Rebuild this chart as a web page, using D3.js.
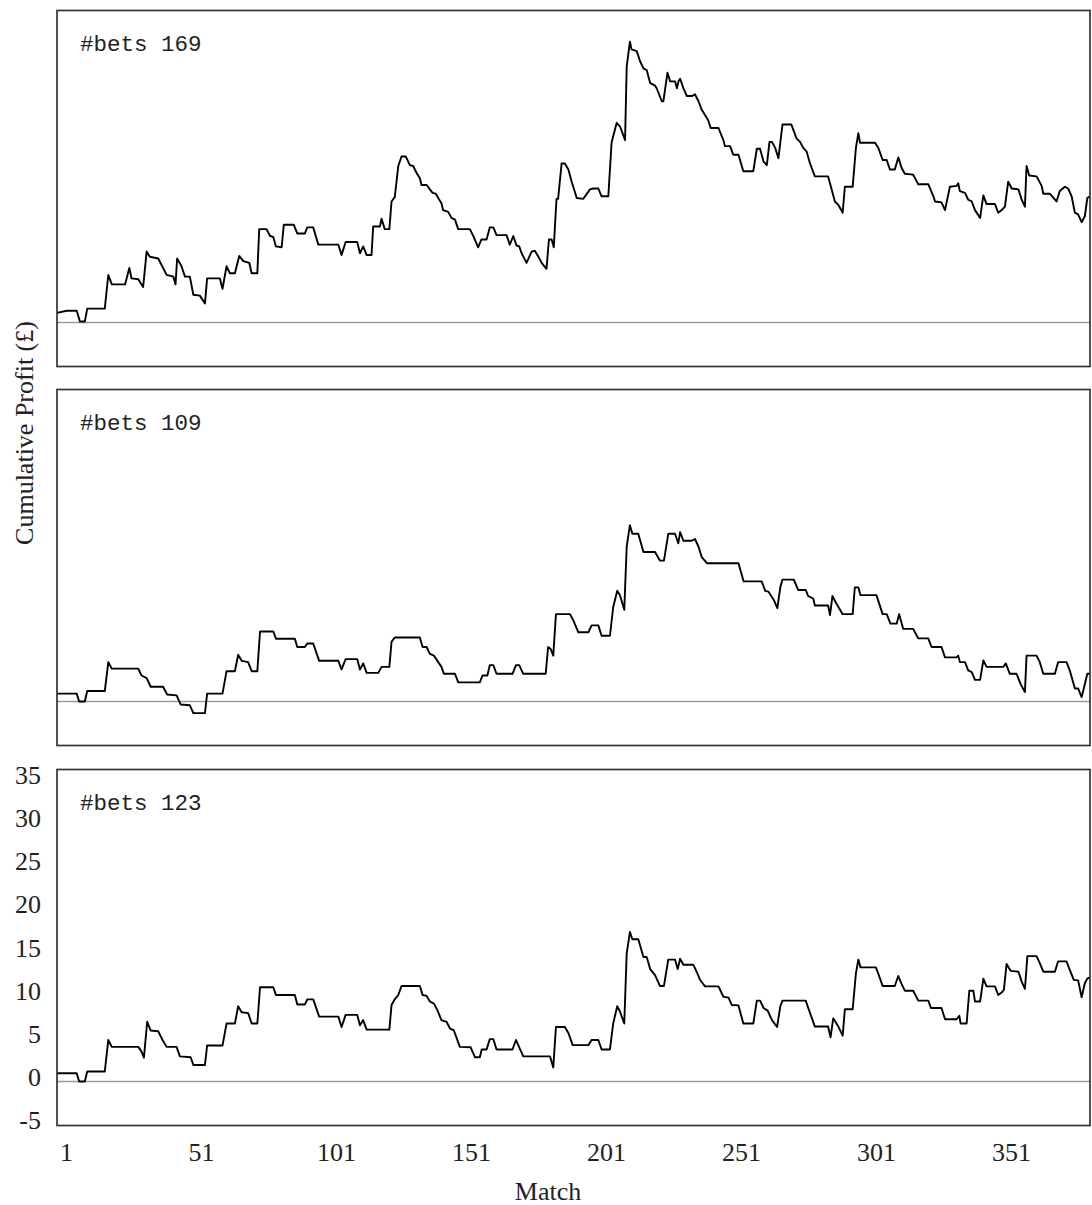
<!DOCTYPE html>
<html>
<head>
<meta charset="utf-8">
<script src="https://cdnjs.cloudflare.com/ajax/libs/d3/7.8.5/d3.min.js"></script>
<style>
    body { margin: 0; background: #fff; }
</style>
</head>
<body>
<script>
// cumulative profit, [match, profit in £], vertices
let bets169 = [
    [-2.3,1.1],[1.3,1.35],[5,1.35],[6.2,0.1],[8,0.1],[8.9,1.6],[15.4,1.6],[16.7,5.5],[18,4.4],[22.9,4.4],
    [24.5,6.3],[25.3,5.1],[27.8,5.0],[29.6,4.1],[30.9,8.2],[32.1,7.6],[35.2,7.4],[38.3,5.5],[40.8,5.3],[41.6,4.4],
    [42.2,7.4],[43.8,6.5],[45.1,5.3],[46.9,5.3],[48.2,3.2],[50.6,3.1],[52.5,2.2],[53.3,5.1],[58,5.1],[59,3.9],
    [60.5,6.5],[61.7,5.7],[63.6,5.7],[65.2,7.7],[66.7,7.1],[68.9,6.9],[69.8,5.7],[71.9,5.7],[72.6,10.8],[75.3,10.8],
    [76.6,10.0],[77.8,9.9],[78.8,8.8],[80.9,8.7],[81.7,11.3],[85.4,11.3],[86.7,10.3],[89.5,10.3],[90.4,11.0],[92.6,11.0],
    [94.5,9.0],[101.9,9.0],[103.1,7.8],[104.6,9.3],[108.9,9.3],[109.9,8.0],[111.1,8.8],[112.4,7.8],[114.2,7.8],[114.8,11.1],
    [117.3,11.1],[117.9,12.0],[119.1,10.8],[120.8,10.8],[121.6,14.0],[122.8,14.5],[124.1,18.1],[125.3,19.2],[126.9,19.2],[128.4,18.2],
    [129.6,18.1],[130.9,17.3],[132.1,16.7],[132.7,15.9],[134.6,15.9],[135.8,15.4],[136.8,15.0],[138,14.9],[138.9,14.4],[140.1,13.8],
    [140.7,13.0],[142.6,12.8],[143.8,12.1],[145.1,11.9],[146.3,10.8],[150.6,10.8],[151.9,10.0],[153.7,8.7],[154.9,9.6],[156.8,9.6],
    [158,11.0],[159.3,11.0],[160.5,10.1],[164.2,10.1],[165.4,9.0],[166.7,10.0],[167.9,8.9],[168.9,8.8],[169.8,8.0],[171.6,6.9],
    [173.5,8.2],[174.7,8.3],[176,7.6],[177.2,6.9],[179,6.2],[179.9,9.6],[180.9,9.6],[181.7,8.7],[182.7,14.3],[183.3,14.3],
    [184.6,18.4],[185.8,18.4],[187.1,17.7],[188.3,16.3],[190.2,14.4],[192.6,14.3],[195.1,15.4],[196.3,15.5],[198.2,15.5],[199.4,14.6],
    [201.9,14.6],[203.1,20.8],[205,23.1],[206.2,22.7],[208.1,21.1],[208.7,29.6],[209.9,32.5],[210.5,31.6],[212.4,31.4],[213.7,30.2],
    [214.9,29.4],[216.1,29.2],[217.4,27.7],[219.2,27.4],[219.8,27.1],[221.7,25.6],[222.3,25.6],[223.8,28.9],[224.8,27.9],[226.6,27.9],
    [227.3,27.1],[227.9,27.9],[228.5,28.2],[229.7,27.1],[231,26.2],[232.8,26.2],[234,26.4],[235.3,25.6],[236.5,24.6],[237.7,24.0],
    [238.9,23.4],[239.8,22.5],[242.7,22.5],[244.5,21.1],[245.1,20.4],[247,20.4],[248.2,19.4],[250.1,19.4],[251.9,17.5],[255.6,17.5],
    [256.9,20.1],[258.1,20.1],[259.4,18.6],[260.6,18.2],[261.6,20.9],[262.5,20.9],[263.7,20.2],[264.9,19.0],[266.4,22.9],[269.7,22.9],
    [271.6,21.3],[272.9,20.9],[274.1,20.2],[275.3,19.8],[276.6,18.4],[278.4,16.9],[283.3,16.9],[284.6,15.4],[285.8,14.0],[287.1,13.6],
    [288.7,12.7],[289.5,15.7],[292.4,15.7],[293.6,20.2],[294.5,21.9],[295.1,20.8],[300.7,20.8],[301.9,20.2],[303.5,18.8],[305,18.8],
    [306.2,17.7],[308,17.7],[309.3,19.1],[310.5,17.9],[311.7,17.2],[314.8,17.1],[316.7,16.0],[320.4,16.0],[322.3,14.6],[322.9,14.0],
    [325.3,13.9],[326.6,13.0],[328.4,15.7],[330.9,15.8],[331.5,16.1],[332.1,15.2],[334,15.0],[335.2,14.2],[336.5,14.0],[337.7,13.0],
    [339.6,12.1],[340.8,14.7],[342,13.7],[345.1,13.7],[346.3,12.7],[347.6,13.0],[348.8,13.4],[350,16.3],[351.3,15.5],[353.8,15.4],
    [355,14.2],[356.2,13.4],[356.8,18.1],[357.8,17.0],[360.5,16.9],[362.4,15.8],[363,14.9],[365.4,14.9],[367.9,14.0],[369.1,15.2],
    [371,15.7],[372.2,15.5],[373.5,14.6],[374.7,12.7],[375.9,12.5],[377.2,11.6],[378.4,12.3],[379.3,14.4],[380.3,14.6]
];

let bets109 = [
    [-2.3,0.9],[5,0.9],[5.9,0],[8,0],[8.9,1.2],[15.4,1.2],[16.7,4.55],[18,3.8],[27.8,3.8],[29,3.0],
    [30.9,2.7],[32.4,1.7],[37,1.7],[38.5,0.8],[42,0.7],[43.5,-0.35],[46.9,-0.45],[48.2,-1.35],[52.5,-1.35],[53.3,0.9],
    [59,0.9],[60.5,3.5],[63.6,3.5],[64.8,5.4],[66.1,4.7],[68.5,4.55],[69.8,3.5],[71.9,3.5],[72.9,8.1],[77.8,8.1],
    [78.8,7.25],[85.8,7.25],[86.7,6.3],[89.5,6.3],[90.4,6.7],[92.6,6.7],[94.8,4.7],[101.9,4.7],[103.1,3.7],[104.6,4.9],
    [108.9,4.9],[109.9,3.7],[111.1,4.4],[112.4,3.3],[116.7,3.3],[117.9,4.0],[120.8,4.0],[121.6,6.9],[122.8,7.4],[132.1,7.4],
    [133.1,6.3],[134.6,6.3],[135.8,5.5],[137.3,5.3],[138.9,4.55],[140.1,4.0],[141,3.2],[145.1,3.2],[146.3,2.2],[154.3,2.2],
    [155.3,3.0],[157.1,3.0],[158,4.2],[159.3,4.2],[160.5,3.2],[166.4,3.2],[167.7,4.2],[168.9,4.2],[170.4,3.2],[178.7,3.2],
    [179.6,6.3],[180.5,6.1],[181.5,5.3],[182.5,10.1],[187.7,10.1],[188.9,9.4],[190.8,8.0],[194.5,8.0],[195.7,8.8],[198.2,8.8],
    [199.4,7.6],[202.5,7.6],[203.7,10.9],[205.2,12.8],[206.2,12.3],[207.8,10.6],[208.7,17.9],[209.9,20.4],[210.8,19.4],[213,19.4],
    [214.9,17.3],[219.2,17.3],[221,16.3],[222.5,16.3],[224.1,19.4],[226.6,19.4],[227.8,18.3],[228.5,19.6],[229.7,18.6],[232.8,18.6],
    [234,18.8],[235.3,17.9],[236.5,16.7],[238.4,16.0],[250.1,16.0],[252,13.9],[258.7,13.9],[260,12.8],[261.2,12.7],[263.1,11.8],
    [264.5,10.8],[265.6,13.2],[266.4,14.1],[270.6,14.1],[272.2,12.9],[275,12.9],[275.9,12.2],[277.8,11.9],[278.4,11.1],[283.3,11.1],
    [284,10.0],[284.9,12.2],[286.4,11.3],[288.7,10.1],[292.4,10.1],[293.2,13.2],[294.5,13.2],[295.3,12.3],[301.2,12.3],[303.5,10.1],
    [305,10.1],[306.4,9.0],[308.7,9.0],[309.6,10.1],[311.1,8.4],[314.8,8.4],[316.7,7.3],[320.4,7.3],[321.6,6.3],[325.3,6.3],
    [326.6,5.1],[330.9,5.1],[331.5,5.3],[332.1,4.55],[334,4.55],[335.2,3.6],[336.5,3.4],[337.7,2.5],[339.6,2.5],[340.8,4.75],
    [342,4.0],[348.2,4.0],[349.1,4.4],[350.6,3.2],[353.1,3.2],[354.6,2.0],[356.2,1.1],[356.8,5.3],[360.5,5.3],[361.7,4.55],
    [363,3.2],[367.3,3.2],[368.5,4.55],[371.6,4.55],[372.8,3.6],[374.7,1.5],[375.9,1.5],[377.2,0.5],[378.4,2.0],[379.3,3.2],
    [380.3,3.2]
];

let bets123 = [
    [-2.3,0.95],[5,0.95],[5.9,0],[8,0],[8.9,1.15],[15.4,1.15],[16.7,4.8],[18,4.0],[27.8,4.0],[29,3.45],
    [29.9,2.75],[31.1,6.9],[32.4,5.9],[35.2,5.8],[36.8,4.8],[38.3,4.0],[42,4.0],[43.2,2.9],[47.2,2.8],[48.2,1.9],
    [52.5,1.9],[53.3,4.15],[59,4.15],[60.5,6.7],[63.6,6.7],[64.8,8.7],[66.1,8.0],[68.5,7.9],[69.8,6.7],[71.9,6.7],
    [72.9,10.9],[77.8,10.9],[78.8,10.0],[85.8,10.0],[86.7,8.9],[89.5,8.9],[90.4,9.5],[92.6,9.5],[94.8,7.5],[101.9,7.5],
    [103.1,6.3],[104.6,7.7],[108.9,7.7],[109.9,6.5],[111.1,7.1],[112.4,6.0],[120.8,6.0],[121.6,8.85],[122.8,9.5],[124.1,10.0],
    [125.3,11.05],[132.1,11.05],[133.1,10.0],[134.6,9.9],[135.8,9.25],[137.3,9.0],[138.5,8.3],[140.1,7.1],[142,6.9],[143.2,6.15],
    [144.7,5.9],[146.9,4.0],[150.9,3.95],[152.5,2.8],[154.3,2.8],[155,3.7],[156.8,3.7],[158,4.9],[159.3,4.9],[160.5,3.7],
    [166.4,3.7],[167.7,4.8],[168.9,3.95],[170.4,2.9],[180.3,2.9],[181.5,1.6],[182.5,6.3],[185.8,6.3],[187.1,5.6],[188.7,4.2],
    [194.5,4.2],[195.7,4.8],[198.2,4.8],[199.4,3.7],[202.5,3.7],[203.7,6.7],[205.2,8.7],[206.2,8.1],[207.8,6.7],[208.7,14.8],
    [209.9,17.3],[210.8,16.45],[213,16.45],[214.9,14.4],[216.1,14.4],[217.4,13.0],[219.2,12.3],[221,11.05],[222.5,11.05],[224.1,14.1],
    [226.6,14.1],[227.6,13.0],[228.5,14.2],[229.7,13.5],[233.4,13.5],[234.6,12.7],[235.8,11.8],[237.7,11.0],[242.7,11.0],[244.5,9.8],
    [246.4,9.7],[247.6,8.85],[250.1,8.8],[251.9,6.7],[255.6,6.7],[256.9,9.35],[258.1,9.35],[259.4,8.5],[260.9,8.2],[262.5,7.1],
    [264.4,6.3],[265.6,8.7],[266.4,9.35],[275,9.35],[276.3,8.2],[278.4,6.35],[283.3,6.35],[284.2,5.1],[285.2,7.3],[287.1,6.35],
    [288.7,5.3],[289.5,8.35],[292.4,8.35],[293.6,12.5],[294.5,14.1],[295.3,13.2],[301,13.2],[302.2,12.2],[303.5,11.05],[308,11.05],
    [309.3,12.2],[310.5,11.3],[311.7,10.5],[314.8,10.5],[316.7,9.35],[320.4,9.35],[321.4,8.5],[325.3,8.5],[326.6,7.2],[330.9,7.2],
    [331.9,7.6],[332.4,6.7],[334.6,6.7],[335.6,10.5],[337.1,10.5],[337.7,9.25],[339.6,9.25],[340.8,11.9],[342,11.0],[345.1,11.0],
    [346.3,10.0],[347.6,10.3],[348.4,10.6],[349.4,13.6],[350.9,12.8],[353.8,12.7],[355,11.55],[356.2,10.7],[357.1,14.5],[360.5,14.5],
    [361.7,13.7],[363,12.7],[367.3,12.7],[368.5,13.9],[371.6,13.9],[372.8,12.9],[374.3,11.75],[375.9,11.7],[377.2,9.75],[378.4,11.4],
    [379.3,11.9],[380.3,12.05]
];

let betCounts = [169, 109, 123];
let xTicks = [1, 51, 101, 151, 201, 251, 301, 351];
let yTicks = [-5, 0, 5, 10, 15, 20, 25, 30, 35];
let xDomain = [-2.3, 380.3];
let yDomain = [-5.1, 36.1];

renderChart();

function renderChart() {
    let series = [bets169, bets109, bets123];
    let panelTops = [10.5, 389.5, 769.5];
    let panelHeight = 356;
    let serif = "'Liberation Serif', 'DejaVu Serif', serif";

    let svg = d3.select("body")
        .append("svg")
            .attr("width", 1092)
            .attr("height", 1205);

    let xScale = d3.scaleLinear()
        .domain(xDomain)
        .range([57, 1090]);

    // all three panels share the same y range
    let yScale = d3.scaleLinear()
        .domain(yDomain)
        .range([panelHeight, 0]);

    let line = d3.line()
        .x(d => xScale(d[0]))
        .y(d => yScale(d[1]));

    let panels = svg.selectAll("g.panel")
        .data(series)
        .enter()
            .append("g")
            .attr("class", "panel")
            .attr("transform", (d, i) => `translate(0, ${panelTops[i]})`);

    panels.append("line")
        .attr("x1", xScale(xDomain[0]))
        .attr("x2", xScale(xDomain[1]))
        .attr("y1", yScale(0))
        .attr("y2", yScale(0))
        .style("stroke", "#9a9a9a")
        .style("stroke-width", 1.4);

    panels.append("path")
        .attr("d", d => line(d))
        .style("fill", "none")
        .style("stroke", "#000")
        .style("stroke-width", 1.9)
        .style("stroke-linejoin", "round");

    panels.append("rect")
        .attr("x", xScale(xDomain[0]))
        .attr("y", 0)
        .attr("width", xScale(xDomain[1]) - xScale(xDomain[0]))
        .attr("height", panelHeight)
        .style("fill", "none")
        .style("stroke", "#333")
        .style("stroke-width", 1.7);

    panels.append("text")
        .attr("x", 80)
        .attr("y", 40)
        .attr("font-family", "'Liberation Mono', 'DejaVu Sans Mono', monospace")
        .attr("font-size", 22.5)
        .attr("fill", "#222")
        .text((d, i) => `#bets ${betCounts[i]}`);

    // axes only on the bottom panel
    let bottom = svg.append("g")
        .attr("transform", `translate(0, ${panelTops[2]})`);

    let xAxis = d3.axisBottom()
        .scale(xScale)
        .tickValues(xTicks)
        .tickSize(0)
        .tickPadding(17);

    bottom.append("g")
        .attr("class", "xAxis")
        .attr("transform", `translate(0, ${panelHeight})`)
        .call(xAxis)
        .call(g => g.select(".domain").remove())
        .attr("font-family", serif)
        .attr("font-size", 26)
        .selectAll("text").attr("fill", "#222");

    let yAxis = d3.axisLeft()
        .scale(yScale)
        .tickValues(yTicks)
        .tickFormat(d => String(d))
        .tickSize(0)
        .tickPadding(16);

    bottom.append("g")
        .attr("class", "yAxis")
        .attr("transform", `translate(57, 0)`)
        .call(yAxis)
        .call(g => g.select(".domain").remove())
        .attr("font-family", serif)
        .attr("font-size", 26)
        .selectAll("text")
            .attr("y", -4)
            .attr("fill", "#222");

    svg.append("text")
        .attr("x", 548)
        .attr("y", 1200)
        .attr("text-anchor", "middle")
        .attr("font-family", serif)
        .attr("font-size", 26)
        .attr("fill", "#222")
        .text("Match");

    svg.append("text")
        .attr("transform", "translate(33, 433) rotate(-90)")
        .attr("text-anchor", "middle")
        .attr("font-family", serif)
        .attr("font-size", 26)
        .attr("fill", "#222")
        .text("Cumulative Profit (£)");
}
</script>
</body>
</html>
